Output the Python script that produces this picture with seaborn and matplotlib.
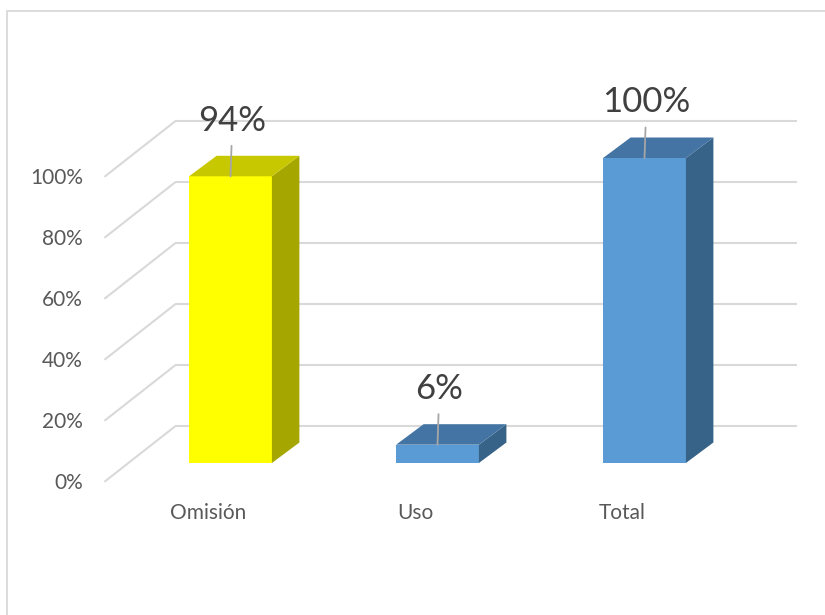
import matplotlib
matplotlib.use("Agg")
import matplotlib.pyplot as plt
import seaborn as sns
import pandas as pd
from matplotlib.patches import Polygon, Rectangle

# Data
categories = ["Omisión", "Uso", "Total"]
values = [94, 6, 100]
value_labels = ["94%", "6%", "100%"]
tick_values = [0, 20, 40, 60, 80, 100]
tick_labels = ["0%", "20%", "40%", "60%", "80%", "100%"]

# Face colours of the 3D columns
front_colors = ["#FFFF00", "#5B9BD5", "#5B9BD5"]
top_colors = ["#C8C800", "#4374A3", "#4374A3"]
side_colors = ["#A6A600", "#386388", "#386388"]

W, H, DPI = 825, 615, 100
sns.set_theme(style="white")
plt.rcParams["font.family"] = ["Lato", "DejaVu Sans"]

fig = plt.figure(figsize=(W / DPI, H / DPI), dpi=DPI)
fig.patch.set_facecolor("white")

# Plot area in pixels (left, right, top, bottom)
L, R, T, B = 90, 815, 10, 495
ax = fig.add_axes([L / W, 1 - B / H, (R - L) / W, (B - T) / H])
ax.set_facecolor("none")

# Scale: pixels per category step and per percentage point
PX_X = 207.0
PX_Y = 3.05
X0 = 230.5   # pixel column of the first category
Y0 = 463.0   # pixel row of the zero line on the column fronts

df = pd.DataFrame({"categoria": categories, "valor": values})
sns.barplot(data=df, x="categoria", y="valor", hue="categoria",
            palette=front_colors, saturation=1, width=0.40, legend=False,
            linewidth=0, edgecolor="none", zorder=3, ax=ax)

ax.set_xlim((L - X0) / PX_X, (R - X0) / PX_X)
ax.set_ylim((Y0 - B) / PX_Y, (Y0 - T) / PX_Y)

# Oblique depth of the columns
DX = 27.5 / PX_X
DY = 20.5 / PX_Y

# Back wall and left wall gridlines
BACK_DY, FRONT_DY = 12.0, -6.0
BACK_XL, BACK_XR, FRONT_XL = -0.268, 2.737, -0.606
for v in tick_values:
    ax.plot([BACK_XL, BACK_XR], [v + BACK_DY, v + BACK_DY],
            color="#d9d9d9", lw=1.5, zorder=1, solid_capstyle="butt")
    ax.plot([FRONT_XL, BACK_XL], [v + FRONT_DY, v + BACK_DY],
            color="#d9d9d9", lw=1.5, zorder=1)

# Side and top faces, built from the bars seaborn drew
bars = sorted(ax.patches, key=lambda p: p.get_x())
for bar, top_c, side_c, lab in zip(bars, top_colors, side_colors, value_labels):
    x0 = bar.get_x()
    x1 = x0 + bar.get_width()
    h = bar.get_height()
    side = Polygon([(x1, 0), (x1 + DX, DY), (x1 + DX, h + DY), (x1, h)],
                   closed=True, facecolor=side_c, edgecolor="none", zorder=3)
    top = Polygon([(x0, h), (x0 + DX, h + DY), (x1 + DX, h + DY), (x1, h)],
                  closed=True, facecolor=top_c, edgecolor="none", zorder=3)
    ax.add_patch(side)
    ax.add_patch(top)
    cx = x0 + bar.get_width() / 2
    ax.plot([cx, cx + 0.005], [h, h + 10], color="#a6a6a6", lw=1.3, zorder=4)
    ax.text(cx + 0.008, h + 15, lab, ha="center", va="baseline",
            fontsize=25, color="#404040", zorder=5)

# Axis labels sit on the front edge of the floor
ax.set_yticks([v + FRONT_DY for v in tick_values], tick_labels)
ax.set_xticks([i - 0.109 for i in range(len(categories))], categories)
ax.tick_params(axis="y", length=0, pad=5, labelsize=15, labelcolor="#595959")
ax.tick_params(axis="x", length=0, pad=6, labelsize=15, labelcolor="#595959")
ax.set_xlabel("")
ax.set_ylabel("")
for s in ax.spines.values():
    s.set_visible(False)
ax.grid(False)

# Chart frame
fig.add_artist(Rectangle((7 / W, -0.1), 1.2, (1 - 11 / H) + 0.1,
                         transform=fig.transFigure, fill=False,
                         edgecolor="#d9d9d9", lw=1.3))

fig.savefig("out.png", dpi=DPI)
